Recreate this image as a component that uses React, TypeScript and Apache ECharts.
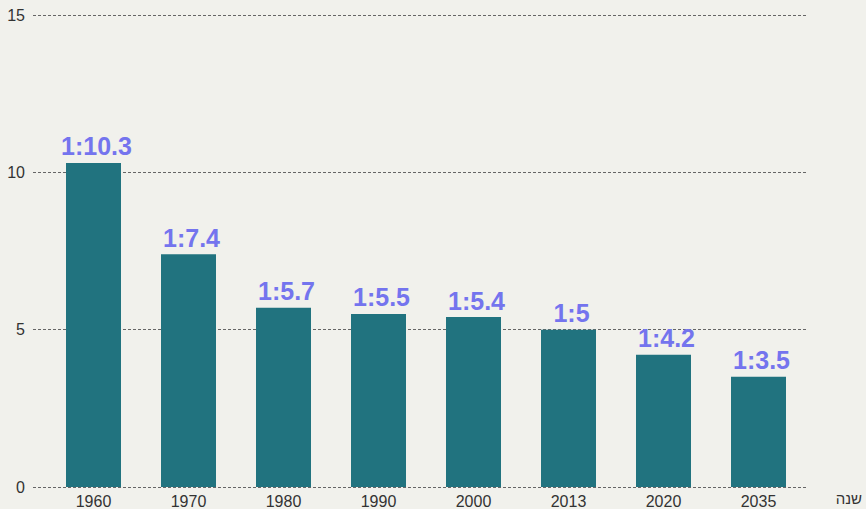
import React, { useEffect, useRef } from "react";
import * as echarts from "echarts";

const years = ["1960", "1970", "1980", "1990", "2000", "2013", "2020", "2035"];
const ratios = [10.3, 7.4, 5.7, 5.5, 5.4, 5, 4.2, 3.5];
const yTicks = [0, 5, 10, 15];
const xName = "שנה";

const FONT = "Arial, Liberation Sans, sans-serif";

export default function App() {
  const ref = useRef<HTMLDivElement>(null);
  useEffect(() => {
    if (!ref.current) return;
    const chart = echarts.init(ref.current, null, { renderer: "svg" });
    chart.setOption({
      animation: false,
      backgroundColor: "#f1f1ec",
      grid: [
        { left: 33, right: 58, top: 15, bottom: 22 },
        { left: 46, right: 60, top: 15, bottom: 22 },
      ],
      xAxis: [
        { type: "value", gridIndex: 0, show: false, min: 0, max: 1 },
        {
          type: "category",
          gridIndex: 1,
          data: years,
          axisLine: { show: false },
          axisTick: { show: false },
          axisLabel: { color: "#333", fontSize: 16, margin: 6, fontFamily: FONT },
        },
      ],
      yAxis: [
        {
          type: "value",
          gridIndex: 0,
          min: yTicks[0],
          max: yTicks[yTicks.length - 1],
          interval: 5,
          axisLine: { show: false },
          axisTick: { show: false },
          axisLabel: { color: "#333", fontSize: 16, margin: 8, fontFamily: FONT },
          splitLine: { lineStyle: { color: "#666", type: [3, 2], width: 1 } },
        },
        {
          type: "value",
          gridIndex: 1,
          min: yTicks[0],
          max: yTicks[yTicks.length - 1],
          interval: 5,
          show: false,
          splitLine: { show: false },
        },
      ],
      graphic: [
        {
          type: "text",
          right: 4,
          bottom: 3,
          style: { text: xName, fill: "#333", fontSize: 15, fontFamily: FONT },
        },
      ],
      series: [
        {
          type: "bar",
          xAxisIndex: 1,
          yAxisIndex: 1,
          data: ratios,
          barWidth: 55,
          itemStyle: { color: "#21737f" },
          label: {
            show: true,
            position: "top",
            distance: 4,
            offset: [3, 0],
            formatter: (p: any) => "1:" + p.value,
            color: "#7474ee",
            fontSize: 25,
            fontWeight: "bold",
            fontFamily: FONT,
          },
        },
      ],
    });
    return () => chart.dispose();
  }, []);
  return <div ref={ref} style={{ width: 866, height: 509, position: "fixed", left: 0, top: 0 }} />;
}
